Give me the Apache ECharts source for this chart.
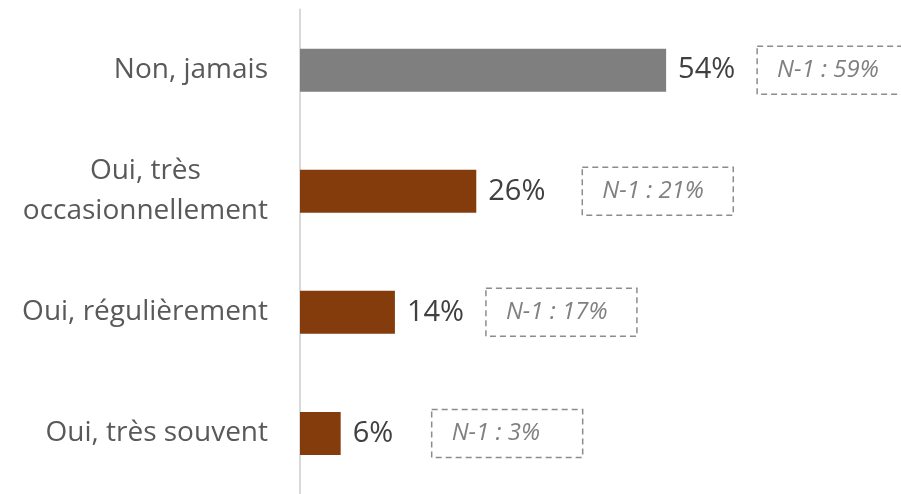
<!DOCTYPE html>
<html><head><meta charset="utf-8">
<script src="https://cdn.jsdelivr.net/npm/echarts@6/dist/echarts.min.js"></script>
<style>html,body{margin:0;padding:0;background:#fff;}#c{width:901px;height:494px;}</style>
</head><body><div id="c"></div>
<script>
var categories = ['Non, jamais', 'Oui, très\noccasionnellement', 'Oui, régulièrement', 'Oui, très souvent'];
var values = [54, 26, 14, 6];
var previousValues = [59, 21, 17, 3];
var barColors = ['#7f7f7f', '#843c0c', '#843c0c', '#843c0c'];

var chart = echarts.init(document.getElementById('c'));
var FONT = '"Open Sans", sans-serif';
chart.setOption({
  animation: false,
  grid: { left: 300, top: 9.6, height: 489.2, width: 542.4 },
  xAxis: { type: 'value', min: 0, max: 80, show: false },
  yAxis: {
    type: 'category', inverse: true, data: categories,
    axisLine: { show: true, lineStyle: { color: '#d9d9d9', width: 2 } },
    axisTick: { show: false },
    axisLabel: {
      margin: 32, color: '#595959', fontSize: 28, fontFamily: FONT,
      formatter: function (v) { return v.split('\n').map(function (s) { return '{c|' + s + '}'; }).join('\n'); },
      rich: { c: { align: 'center', fontSize: 28, fontFamily: FONT, color: '#595959', lineHeight: 40 } }
    }
  },
  series: [{
    type: 'bar', barWidth: 43,
    data: values.map(function (v, i) { return { value: v, itemStyle: { color: barColors[i] } }; }),
    label: { show: true, position: 'right', distance: 12, formatter: '{c}%', color: '#404040', fontSize: 29, fontFamily: FONT }
  }, {
    type: 'custom',
    data: values.map(function (v, i) { return [v, i, previousValues[i]]; }),
    encode: { x: 0, y: 1 },
    renderItem: function (params, api) {
      var p = api.coord([api.value(0), api.value(1)]);
      var x = p[0] + 91 + (params.dataIndex === 1 ? 15 : 0), y = p[1];
      return { type: 'group', children: [
        { type: 'rect', shape: { x: x, y: y - 24, width: 151, height: 48 },
          style: { fill: 'none', stroke: '#8c8c8c', lineWidth: 1.5, lineDash: [6, 4] } },
        { type: 'text', style: { text: 'N-1 : ' + api.value(2) + '%', x: x + 20, y: y, verticalAlign: 'middle', align: 'left',
          font: 'italic 24px ' + FONT, fill: '#808080' } }
      ] };
    }
  }]
});
</script></body></html>
